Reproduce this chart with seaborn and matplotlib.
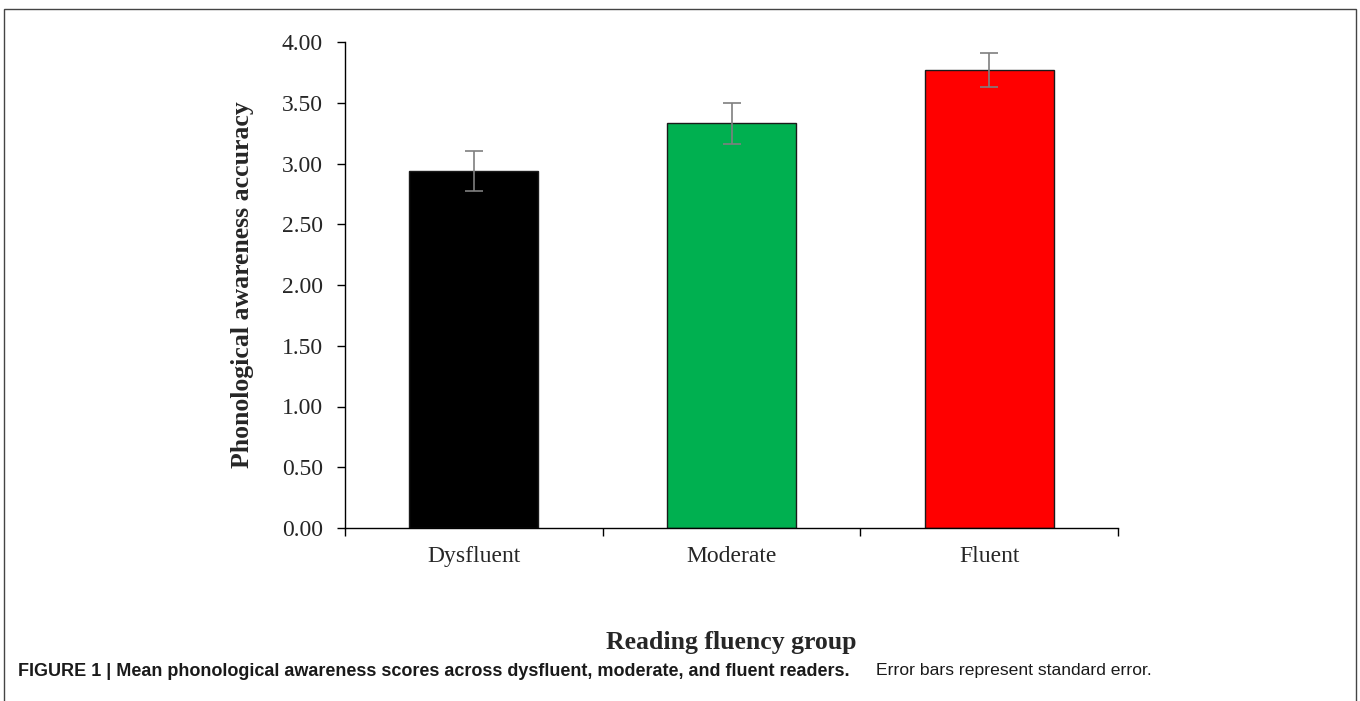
import matplotlib
matplotlib.use('Agg')
import matplotlib.pyplot as plt
import pandas as pd
import seaborn as sns
from matplotlib.patches import Rectangle

groups = ['Dysfluent', 'Moderate', 'Fluent']
means = [2.94, 3.33, 3.77]
std_err = [0.165, 0.17, 0.14]
bar_colors = ['#000000', '#00B050', '#FF0000']
y_ticks = [0.0, 0.5, 1.0, 1.5, 2.0, 2.5, 3.0, 3.5, 4.0]

data = pd.DataFrame({'Group': groups, 'Accuracy': means, 'SE': std_err})

sns.set_style('white')
plt.rcParams['font.family'] = ['Liberation Serif', 'DejaVu Serif']

fig = plt.figure(figsize=(13.6, 7.01), dpi=100)
ax = fig.add_axes([345 / 1360, 1 - 528 / 701, (1118 - 345) / 1360, (528 - 42) / 701])

sns.barplot(data=data, x='Group', y='Accuracy', hue='Group', palette=bar_colors,
            saturation=1, width=0.5, edgecolor='#1a1a1a', linewidth=1.0, legend=False, ax=ax)

# error bars (standard error)
ax.errorbar(x=range(len(groups)), y=data['Accuracy'], yerr=data['SE'], fmt='none',
            ecolor='#7f7f7f', elinewidth=1.2, capsize=6.5, capthick=1.2)

ax.set_xlim(-0.5, 2.5)
ax.set_ylim(0, 4)
ax.set_yticks(y_ticks)
ax.set_yticklabels([f'{v:.2f}' for v in y_ticks], fontsize=17)
ax.set_xticks(range(len(groups)))
ax.set_xticklabels(groups, fontsize=17)
ax.set_xticks([-0.5, 0.5, 1.5, 2.5], minor=True)
ax.tick_params(axis='x', which='major', length=0, pad=13)
ax.tick_params(axis='x', which='minor', bottom=True, length=6, width=1, color='black', direction='out')
ax.tick_params(axis='y', length=6, width=1, color='black', direction='out', pad=10, left=True)

for side in ['top', 'right']:
    ax.spines[side].set_visible(False)
for side in ['left', 'bottom']:
    ax.spines[side].set_color('black')
    ax.spines[side].set_linewidth(1)

ax.set_ylabel('Phonological awareness accuracy', fontsize=18.5, fontweight='bold', labelpad=20)
ax.set_xlabel('Reading fluency group', fontsize=18.5, fontweight='bold', labelpad=46)

# outer frame and caption
fig.patches.append(Rectangle((4 / 1360, -0.05), 1352 / 1360, 1.05 - 9 / 701, transform=fig.transFigure,
                             fill=False, edgecolor='#444444', linewidth=1))
fig.text(18 / 1360, 1 - 671 / 701,
         'FIGURE 1 | Mean phonological awareness scores across dysfluent, moderate, and fluent readers.',
         fontsize=13.0, fontweight='bold', family=['Liberation Sans', 'DejaVu Sans'], va='center', color='#1a1a1a')
fig.text(876 / 1360, 1 - 671 / 701, 'Error bars represent standard error.',
         fontsize=12.6, family=['Liberation Sans', 'DejaVu Sans'], va='center', color='#1a1a1a')

fig.savefig('out.png', dpi=100)
